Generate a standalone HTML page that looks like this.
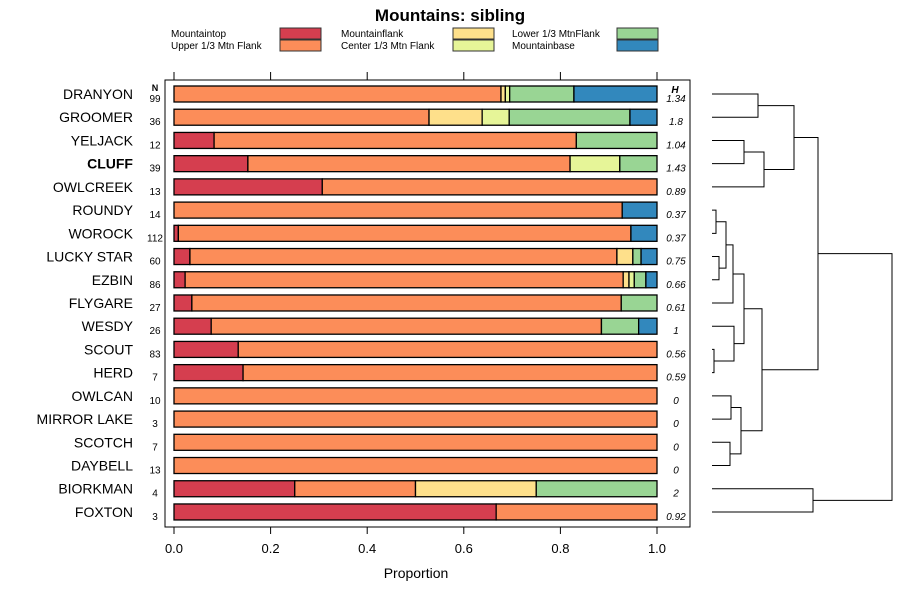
<!DOCTYPE html>
<html><head><meta charset="utf-8"><style>
body{margin:0;background:#fff;font-family:"Liberation Sans",sans-serif}
svg text{font-family:"Liberation Sans",sans-serif}
</style></head><body>
<svg id="c" width="900" height="600" viewBox="0 0 900 600">
<text x="450" y="21" text-anchor="middle" font-size="17" font-weight="bold">Mountains: sibling</text>
<g id="legend"></g>
<rect x="165" y="80" width="525" height="447" fill="none" stroke="#000" stroke-width="1"/>
<g id="axes"></g><g id="bars"></g><g id="dend"></g>
<text x="155" y="91" font-size="9" font-weight="bold" text-anchor="middle">N</text>
<text x="675" y="93" font-size="10" font-weight="bold" font-style="italic" text-anchor="middle">H</text>
<text x="416" y="578" text-anchor="middle" font-size="14">Proportion</text>
</svg>
<script>
const categories=["DRANYON","GROOMER","YELJACK","CLUFF","OWLCREEK","ROUNDY","WOROCK","LUCKY STAR","EZBIN","FLYGARE","WESDY","SCOUT","HERD","OWLCAN","MIRROR LAKE","SCOTCH","DAYBELL","BIORKMAN","FOXTON"];
const nValues=[99,36,12,39,13,14,112,60,86,27,26,83,7,10,3,7,13,4,3];
const hValues=["1.34","1.8","1.04","1.43","0.89","0.37","0.37","0.75","0.66","0.61","1","0.56","0.59","0","0","0","0","2","0.92"];
const seriesNames=["Mountaintop","Upper 1/3 Mtn Flank","Mountainflank","Center 1/3 Mtn Flank","Lower 1/3 MtnFlank","Mountainbase"];
const colors=["#d53e4f","#fc8d59","#fee08b","#e6f598","#99d594","#3288bd"];
const mountaintop=[0,0,0.083,0.153,0.307,0,0.009,0.033,0.023,0.037,0.077,0.133,0.143,0,0,0,0,0.25,0.667];
const upperFlank=[0.677,0.528,0.750,0.667,0.693,0.928,0.937,0.884,0.907,0.889,0.808,0.867,0.857,1,1,1,1,0.25,0.333];
const mountainflank=[0.009,0.110,0,0,0,0,0,0.033,0.012,0,0,0,0,0,0,0,0,0.25,0];
const centerFlank=[0.009,0.056,0,0.103,0,0,0,0,0.011,0,0,0,0,0,0,0,0,0,0];
const lowerFlank=[0.133,0.250,0.167,0.077,0,0,0,0.017,0.024,0.074,0.077,0,0,0,0,0,0,0.25,0];
const mountainbase=[0.172,0.056,0,0,0,0.072,0.054,0.033,0.023,0,0.038,0,0,0,0,0,0,0,0];
const series=[mountaintop,upperFlank,mountainflank,centerFlank,lowerFlank,mountainbase];
const xTicks=[0,0.2,0.4,0.6,0.8,1.0];
const xLabels=["0.0","0.2","0.4","0.6","0.8","1.0"];
const NS="http://www.w3.org/2000/svg";
const X=v=>174+v*483, Y=i=>94+i*23.22;
function mk(t,a,p){const e=document.createElementNS(NS,t);for(const k in a)e.setAttribute(k,a[k]);p.appendChild(e);return e;}
const ax=document.getElementById('axes');
xTicks.forEach((v,i)=>{
 let t=mk('line',{x1:X(v),x2:X(v),y1:527,y2:534,stroke:'#000'},ax);
 
 
 t=mk('line',{x1:X(v),x2:X(v),y1:72,y2:80,stroke:'#000'},ax);
 
 
 const l=mk('text',{x:X(v),y:553,'text-anchor':'middle','font-size':13},ax);l.textContent=xLabels[i];
 
 
});
const bg=document.getElementById('bars');
categories.forEach((c,i)=>{
 const y=Y(i);
 let t=mk('text',{x:133,y:y+5,'text-anchor':'end','font-size':14,'font-weight':c==="CLUFF"?'bold':'normal'},bg);t.textContent=c;
 
 
 t=mk('text',{x:155,y:y+8,'text-anchor':'middle','font-size':10},bg);t.textContent=nValues[i];
 
 
 t=mk('text',{x:676,y:y+8,'text-anchor':'middle','font-size':10,'font-style':'italic'},bg);t.textContent=hValues[i];
 
 
 let cum=0;
 series.forEach((s,k)=>{
  const v=s[i]; if(v<=0)return;
  const r=mk('rect',{x:X(cum),y:y-8,width:v*483,height:16,fill:colors[k],stroke:'#000','stroke-width':1.3},bg);
  
  
  cum+=v;
 });
});
const lg=document.getElementById('legend');
[[0,171,280,37],[1,171,280,49],[2,341,453,37],[3,341,453,49],[4,512,617,37],[5,512,617,49]].forEach(([k,tx,bx,ty])=>{
 const t=mk('text',{x:tx,y:ty,'font-size':10},lg);t.textContent=seriesNames[k];
 
 
 const r=mk('rect',{x:bx,y:ty-9,width:41,height:11,fill:colors[k],stroke:'#333'},lg);
 
 
});
const merges=[[0,1,758],[2,3,744],["B",4,764],["A","C",794],[5,6,716],[7,8,719],["E","F",726],["G",9,733],[11,12,714],[10,"I",734],["H","J",744],[13,14,731],[15,16,730],["L","M",741],["K","N",762],["D","O",818],[17,18,813],["P","Q",892]];
const names="ABCDEFGHIJKLMNOPQR";
const nodes={};
const dg=document.getElementById('dend');
function pt(c){return typeof c==="number"?{x:712,y:Y(c)}:nodes[c];}
merges.forEach((m,j)=>{
 const a=pt(m[0]),b=pt(m[1]),h=m[2];
 const p=mk('path',{d:`M${a.x},${a.y}H${h}V${b.y}H${b.x}`,fill:'none',stroke:'#000','stroke-width':1},dg);
 
 
 nodes[names[j]]={x:h,y:(a.y+b.y)/2};
});
</script>
</body></html>
